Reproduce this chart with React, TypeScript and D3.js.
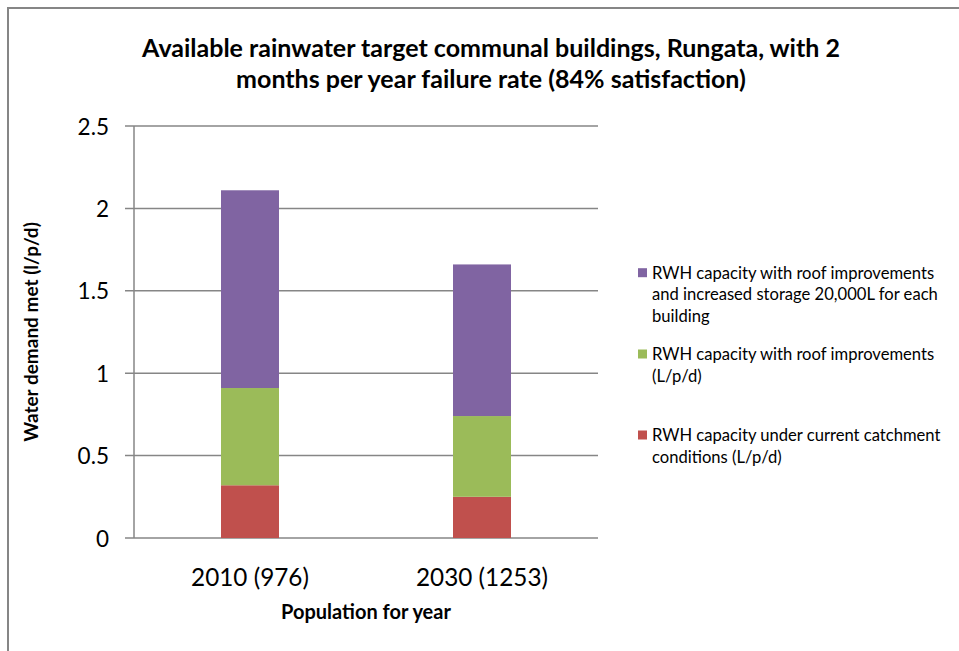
import React from "react";
import * as d3 from "d3";

const categories = ["2010 (976)", "2030 (1253)"];
const seriesNames = [
  "RWH capacity under current catchment conditions (L/p/d)",
  "RWH capacity with roof improvements (L/p/d)",
  "RWH capacity with roof improvements and increased storage 20,000L for each building",
];
const currentCatchment = [0.32, 0.25];
const roofImprovements = [0.59, 0.49];
const increasedStorage = [1.2, 0.92];
const yTicks = [0, 0.5, 1, 1.5, 2, 2.5];
const yTickLabels = ["0", "0.5", "1", "1.5", "2", "2.5"];
const colors = ["#C0504D", "#9BBB59", "#8064A2"];

const titleLines = [
  "Available rainwater target communal buildings, Rungata, with 2",
  "months per year failure rate (84% satisfaction)",
];
const legendLines = [
  ["RWH capacity with roof improvements", "and increased storage 20,000L for each", "building"],
  ["RWH capacity with roof improvements", "(L/p/d)"],
  ["RWH capacity under current catchment", "conditions (L/p/d)"],
];

const FONT = "Lato, 'Open Sans', sans-serif";

export default function App() {
  const W = 959, H = 651;
  const left = 134, right = 598, top = 126, bottom = 538;
  const x = d3.scaleBand<string>().domain(categories).range([left, right]).paddingInner(0.75).paddingOuter(0.375);
  const y = d3.scaleLinear().domain([0, 2.5]).range([bottom, top]);

  const rows = categories.map((c, i) => ({
    cat: c,
    s0: currentCatchment[i],
    s1: roofImprovements[i],
    s2: increasedStorage[i],
  }));
  const stack = d3.stack<any>().keys(["s0", "s1", "s2"]);
  const layers = stack(rows);

  const legendColors = [colors[2], colors[1], colors[0]];
  const legendStarts = [272.7, 354, 435];
  const lh = 21.7;

  return (
    <svg width={W} height={H} style={{ position: "absolute", left: 0, top: 0, background: "#fff" }} fontFamily={FONT}>
      <rect x={0} y={0} width={W} height={H} fill="#fff" />
      <rect x={8} y={8} width={1100} height={800} fill="none" stroke="#868686" strokeWidth={2} />
      {titleLines.map((t, i) => (
        <text key={i} x={491} y={47 + i * 31} textAnchor="middle" dominantBaseline="central" fontSize={25} fontWeight="bold" fill="#000">
          {t}
        </text>
      ))}
      {yTicks.map((v, i) => (
        <g key={i}>
          <line x1={125} x2={right} y1={y(v)} y2={y(v)} stroke="#868686" strokeWidth={1.5} />
          <text x={109} y={y(v)} textAnchor="end" dominantBaseline="central" fontSize={22.5} fill="#000">
            {yTickLabels[i]}
          </text>
        </g>
      ))}
      <line x1={left} x2={left} y1={top} y2={bottom} stroke="#868686" strokeWidth={1.5} />
      {layers.map((layer, li) =>
        layer.map((d, di) => (
          <rect
            key={li + "-" + di}
            x={x(categories[di])}
            y={y(d[1])}
            width={x.bandwidth()}
            height={y(d[0]) - y(d[1])}
            fill={colors[li]}
          />
        ))
      )}
      {categories.map((c) => (
        <text key={c} x={(x(c) as number) + x.bandwidth() / 2} y={576} textAnchor="middle" dominantBaseline="central" fontSize={24.3} fill="#000">
          {c}
        </text>
      ))}
      <text x={366} y={611} textAnchor="middle" dominantBaseline="central" fontSize={20} fontWeight="bold" fill="#000">
        Population for year
      </text>
      <text transform={`translate(30,${(top + bottom) / 2}) rotate(-90)`} textAnchor="middle" dominantBaseline="central" fontSize={19} fontWeight="bold" fill="#000">
        Water demand met (l/p/d)
      </text>
      {legendLines.map((lines, gi) => (
        <g key={gi}>
          <rect x={638} y={legendStarts[gi] - 4.5} width={9} height={9} fill={legendColors[gi]} />
          {lines.map((ln, li) => (
            <text key={li} x={652} y={legendStarts[gi] + li * lh} dominantBaseline="central" fontSize={16.6} fill="#000">
              {ln}
            </text>
          ))}
        </g>
      ))}
    </svg>
  );
}
